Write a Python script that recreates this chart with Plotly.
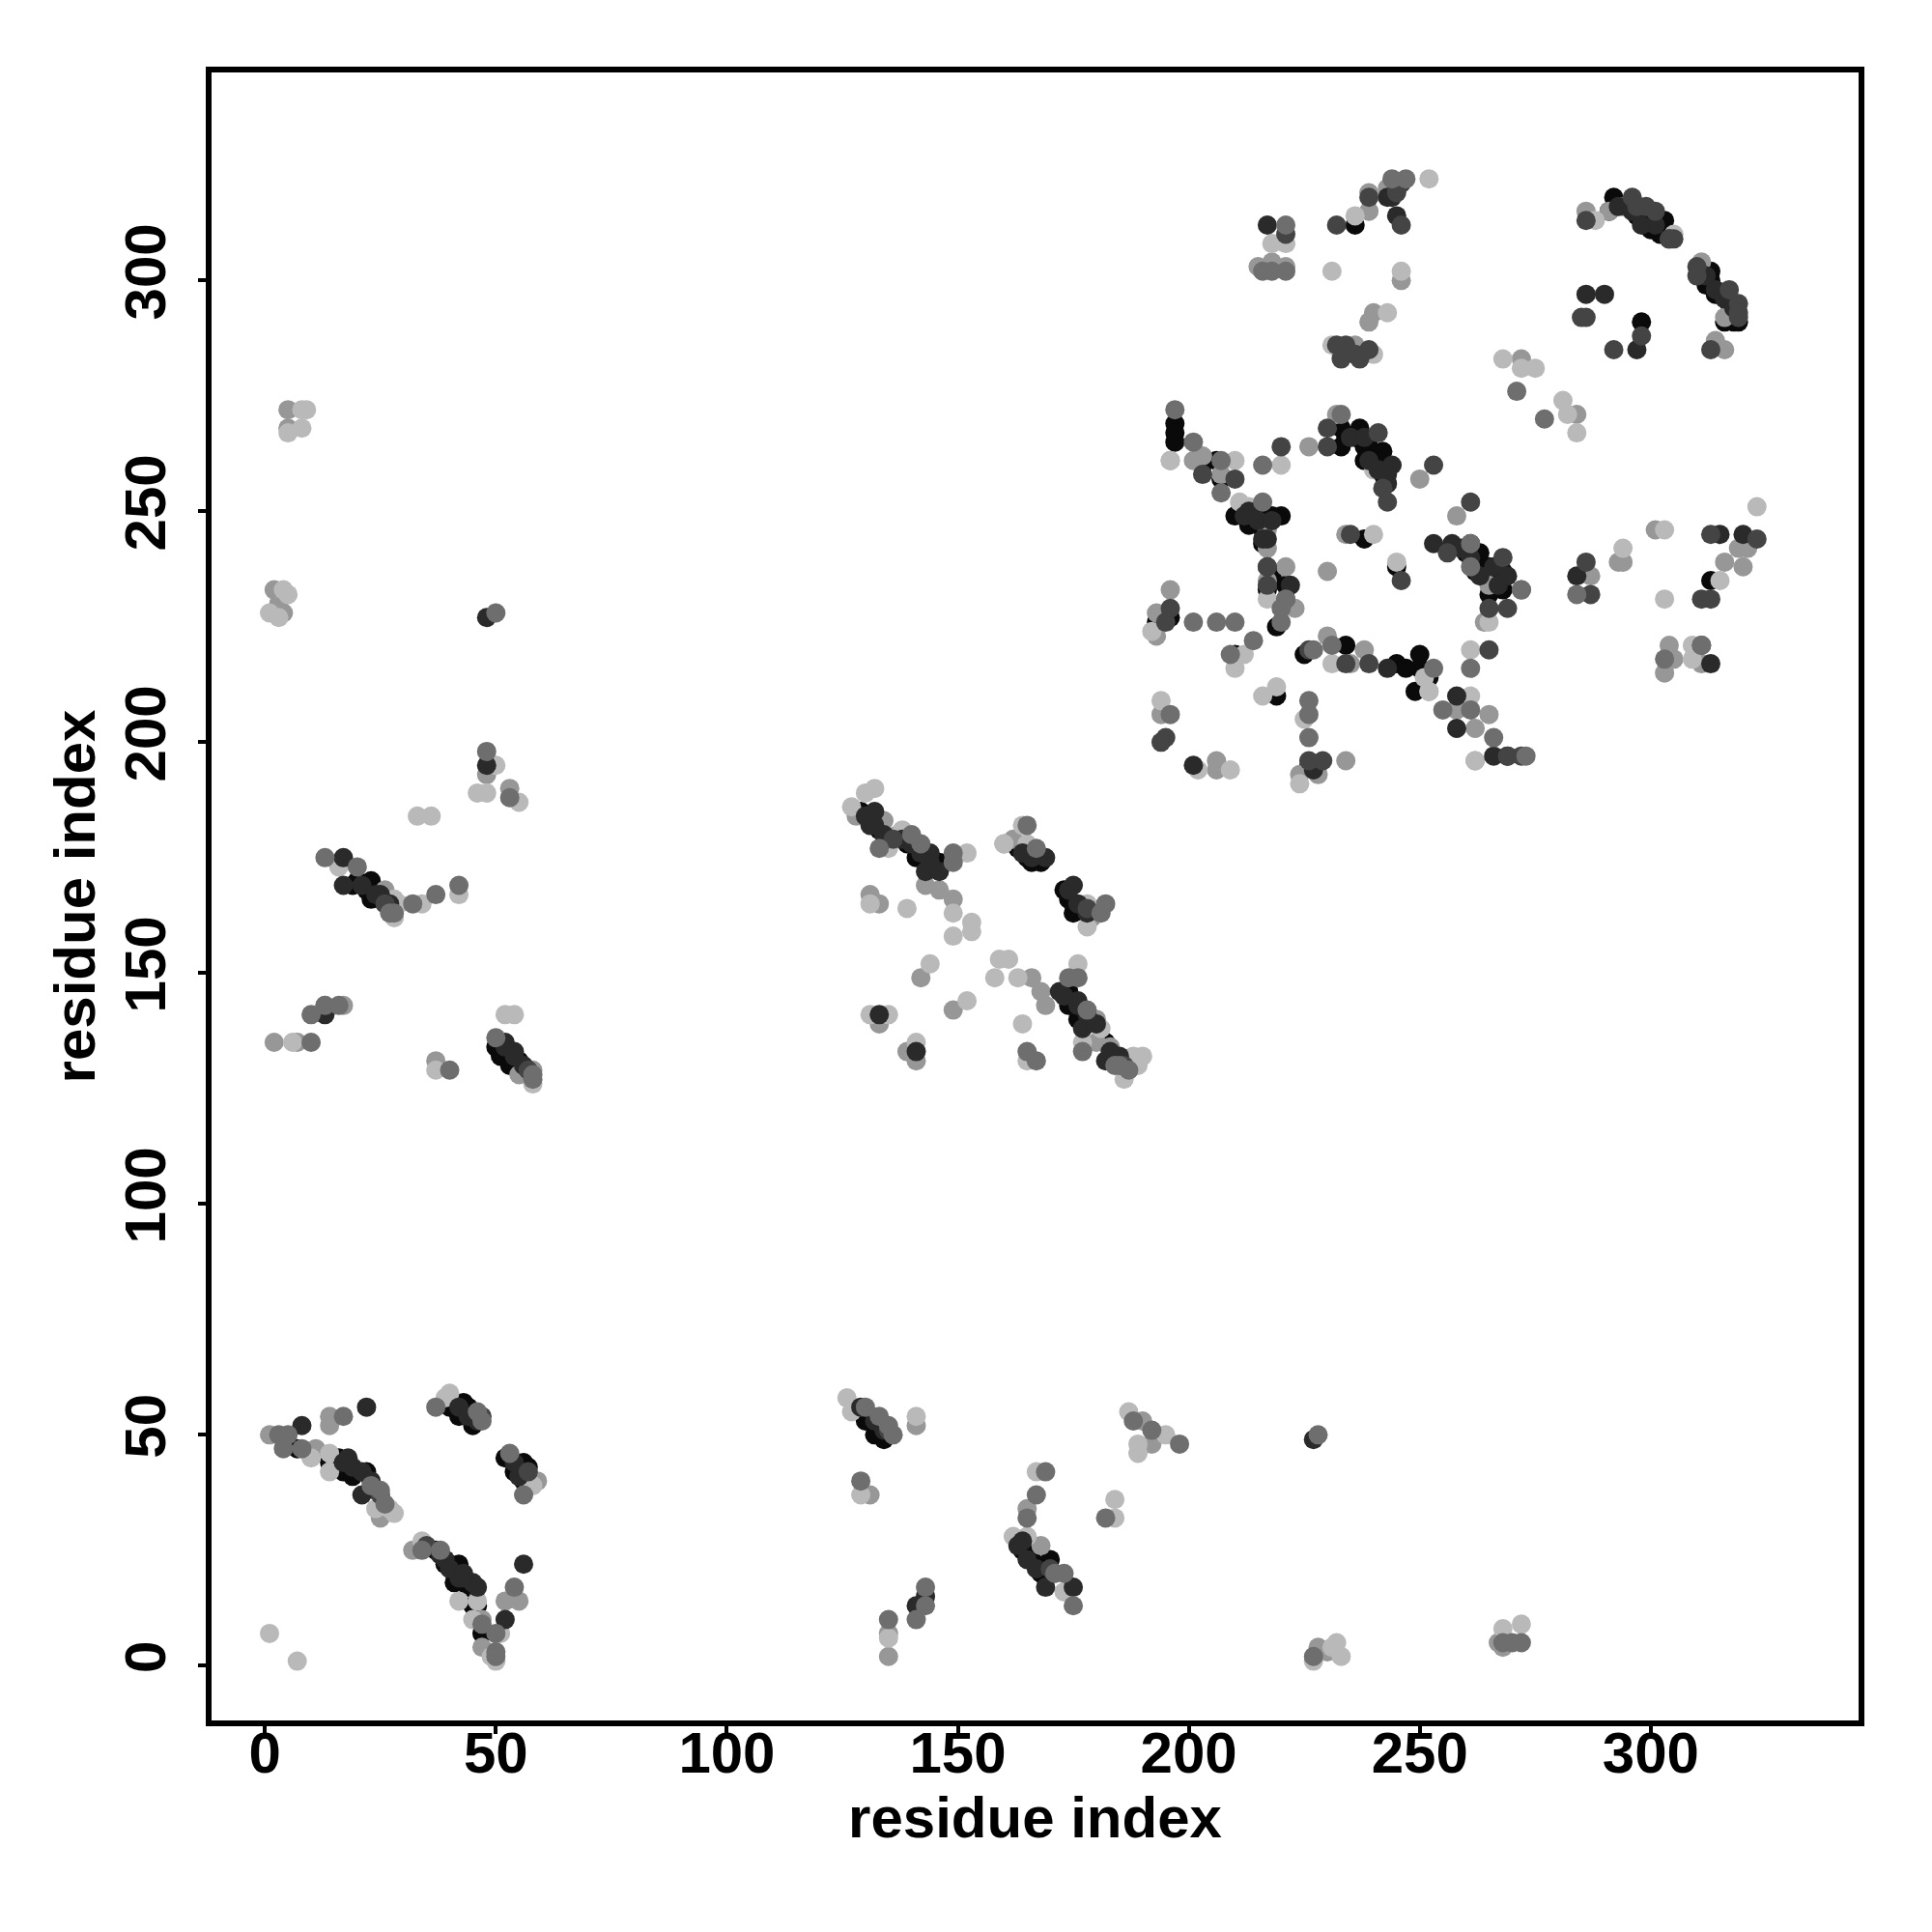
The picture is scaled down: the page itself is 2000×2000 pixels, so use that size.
import plotly.graph_objects as go

# contact points (residue i, residue j), grouped by shade
black_pts = [(236,312),(292,318),(291,315),(298,313),(300,311),(303,313),(313,302),(312,299),(314,297),(319,291),(316,291),
 (298,291),(197,269),(197,267),(197,265),(203,260),(206,261),(207,257),(233,268),(237,268),(233,264),(238,264),(238,261),(242,263),
 (210,249),(215,249),(220,249),(218,249),(213,247),(216,246),(238,244),(260,241),(263,241),(264,237),(268,237),(268,233),(265,232),
 (245,238),(217,233),(221,234),(194,227),(196,227),(219,225),(210,219),(225,219),(234,221),(245,217),(250,219),(250,216),(249,211),
 (219,210),(226,195),(269,197),(313,235),(7,47),(14,44),(17,42),(19,41),(22,42),(37,25),(40,22),(42,22),(45,13),(47,7),(40,56),(43,57),
 (42,54),(45,52),(52,45),(54,42),(57,43),(56,40),(20,170),(23,170),(23,166),(50,134),(51,132),(53,130),(130,53),(132,50),(134,49),
 (165,25),(170,23),(167,22),(169,19),(163,177),(166,174),(168,174),(174,166),(175,163),(174,146),(174,143),(176,140),(141,175),(146,174),
 (51,135),(53,133),(55,131),(19,169),(22,168),(25,166),(129,185),(131,183),(133,181),(139,178),(141,177),(143,175),(145,173),
 (165,175),(167,175),(173,168),(175,165),(177,164),(175,144),(177,142),(179,140),(182,135),(184,132),(16,45),(18,44),(20,42),(39,22),(41,20),(41,18),
 (44,17),(46,13),(41,57),(44,56),(43,55),(53,45),(55,43),(56,44),(131,54),(133,52),(164,25),(166,23),(168,20),(295,316),(297,314),(299,314),(302,310),
 (311,302),(313,300),(315,297),(317,295),(318,291),(212,251),(214,249),(216,247),(217,247),(216,243),(234,266),(236,266),(239,264),(240,262),(241,261),(242,258),
 (262,239),(262,237),(265,238),(266,235),(247,216),(252,214),(193,226),(218,236)]
dark_pts = [(217,312),(245,314),(286,297),(290,297),(297,285),(244,260),(243,256),(212,249),(216,244),(217,238),(222,234),(261,243),
 (257,243),(253,243),(284,236),(320,245),(315,245),(266,197),(243,216),(258,210),(258,203),(227,194),(313,217),(201,195),
 (18,45),(21,37),(39,23),(42,19),(43,19),(45,18),(52,10),(56,22),(22,56),(8,52),(17,175),(17,169),(25,167),(27,165),(13,141),(52,135),
 (54,133),(48,195),(164,27),(169,17),(175,17),(143,15),(141,13),(227,49),(131,182),(132,185),(139,179),(143,172),(144,176),(146,172),
 (169,175),(175,169),(172,146),(176,144),(177,138),(182,131),(185,132),(141,133),(133,141),(48,227),
 (52,134),(54,132),(56,130),(21,169),(24,167),(130,184),(132,182),(134,180),(138,179),(140,178),(142,176),(144,174),(164,176),(166,175),(174,168),(176,165),(178,163),
 (173,145),(176,143),(178,141),(180,139),(183,133),(185,131),(17,44),(19,43),(21,42),(23,40),(24,38),(38,24),(40,21),(43,20),(46,17),(42,56),(44,54),(46,53),
 (54,44),(55,41),(129,56),(132,53),(134,51),(163,26),(165,23),(167,21),(293,316),(296,315),(298,312),(301,312),(304,309),(312,301),(314,298),(316,296),(318,294),
 (213,250),(215,248),(218,248),(217,244),(235,266),(238,266),(239,261),(241,259),(243,258),(259,242),(261,240),(263,236),(266,238),(267,234),(269,236),(243,318),(244,318)]
deep_pts = [(232,312),(239,318),(245,319),(246,312),(221,310),(232,286),(234,286),(236,284),(239,285),(286,313),(296,318),(299,316),
 (297,316),(301,315),(310,303),(310,301),(317,298),(313,285),(203,258),(210,257),(220,264),(230,264),(230,268),(241,267),(243,252),
 (253,260),(261,252),(235,245),(256,241),(268,240),(272,233),(265,229),(269,229),(286,239),(287,232),(313,245),(323,244),(311,231),
 (313,231),(246,235),(217,238),(217,234),(221,231),(196,229),(195,226),(226,220),(239,217),(234,217),(265,220),(195,201),(194,200),
 (269,197),(272,197),(229,196),(226,196),(292,285),(285,292),(286,292),(298,288),(233,283),(237,283),(304,309),(311,221),(319,295),(319,293),
 (57,129),(26,165),(136,179),(178,164),(186,130),(25,37),(35,26),(47,54),(57,42),(135,51),(170,21),(305,309),(319,292),(242,255),(245,320),(246,321)]
gray1_pts = [(247,322),(244,322),(221,312),(216,302),(218,302),(221,302),(197,272),(201,265),(207,261),(207,254),(216,260),(221,231),(220,229),
 (220,226),(216,252),(233,271),(261,216),(271,276),(277,270),(261,207),(255,207),(266,201),(273,197),(214,222),(209,219),(206,226),(210,226),
 (226,209),(226,206),(226,201),(231,221),(227,220),(253,216),(261,243),(261,238),(272,233),(284,232),(311,221),(303,218),(196,206),(201,226),
 (17,54),(3,50),(5,50),(4,47),(8,47),(23,39),(25,38),(34,25),(38,25),(47,9),(50,7),(50,3),(50,2),(54,17),(37,56),(46,55),(47,53),(53,46),(56,37),
 (13,175),(20,173),(27,163),(32,165),(37,167),(42,169),(53,188),(48,198),(50,228),(10,141),(13,143),(16,143),(10,135),(40,129),(58,127),(50,136),
 (165,32),(167,37),(169,42),(173,20),(175,13),(188,53),(192,51),(198,48),(182,32),(141,10),(143,17),(143,13),(135,10),(227,2),
 (268,5),(272,5),(270,5),(129,40),(130,56),(133,54),(135,52),(136,50),(133,177),(149,176),(149,174),(142,178),(140,180),(167,177),(165,182),
 (174,149),(176,149),(178,142),(182,165),(165,133),(167,131),(185,130),(184,130),(177,133),(228,50),(58,128),(28,163),(181,163),(187,129),(26,35),(171,20)]
gray2_pts = [(239,319),(243,320),(239,315),(218,304),(215,303),(221,303),(246,300),(240,293),(239,291),(233,284),(236,286),(272,283),(284,271),
 (316,292),(314,287),(316,285),(286,315),(291,315),(294,316),(311,304),(196,261),(203,262),(201,261),(207,258),(226,264),(232,271),(250,257),
 (258,249),(217,246),(217,242),(234,245),(221,238),(217,235),(223,229),(196,233),(193,228),(193,223),(230,237),(230,223),(238,220),(235,217),
 (252,211),(262,203),(258,207),(265,206),(262,196),(224,193),(228,193),(234,196),(293,239),(294,239),(301,246),(319,242),(321,242),(316,239),(320,238),
 (287,236),(304,221),(305,218),(303,215),(311,217),(206,196),(206,194),(194,206),(264,226),(265,234),
 (1,50),(14,54),(14,52),(11,47),(55,14),(52,14),(32,25),(47,10),(47,4),(59,40),(58,40),(25,32),(5,272),(5,268),(2,233),(3,230),(4,228),
 (48,193),(53,190),(13,143),(17,143),(2,135),(7,135),(37,131),(55,128),(58,129),(26,168),
 (165,34),(168,26),(190,53),(192,48),(141,52),(131,37),(135,7),(135,2),(228,4),(230,3),(268,4),(267,5),
 (134,183),(128,184),(143,169),(146,168),(149,166),(131,167),(133,165),(139,133),(141,131),(133,139),(162,179),(180,140),(180,135),(183,134),(187,129),
 (142,149),(149,142),(166,149),(168,146),(169,143),(179,162),(137,180),(160,178)]
light_pts = [(252,322),(236,314),(218,308),(221,308),(231,302),(246,302),(243,293),(231,286),(240,284),(288,313),(305,310),(268,283),(272,281),(275,281),
 (281,274),(282,271),(284,267),(196,261),(210,261),(220,260),(240,259),(245,239),(211,252),(213,251),(240,245),(265,226),(217,231),(192,224),(212,219),
 (210,216),(231,217),(251,214),(252,211),(261,220),(261,210),(262,196),(194,209),(202,194),(209,194),(224,191),(219,212),(216,210),(225,205),(294,242),(303,246),
 (323,251),(315,235),(303,231),(309,221),(309,218),(14,46),(10,45),(14,42),(24,34),(27,34),(28,33),(34,27),(42,14),(46,14),(45,10),(50,1),(49,2),(51,7),
 (39,58),(40,59),(58,39),(1,7),(7,1),(9,272),(8,272),(8,268),(5,267),(4,233),(5,232),(1,228),(3,227),(50,195),(46,189),(48,189),(55,187),(36,184),(33,184),
 (16,173),(28,166),(29,165),(28,162),(34,165),(42,167),(6,135),(37,129),(52,141),(54,141),(58,126),
 (126,58),(127,55),(141,54),(129,37),(167,42),(162,28),(165,28),(171,20),(173,16),(187,55),(195,50),(189,48),(189,46),(184,32),(184,36),(135,6),(227,1),
 (232,5),(233,2),(231,4),(268,8),(272,9),
 (127,186),(130,189),(132,190),(135,177),(138,181),(152,176),(149,163),(153,161),(153,159),(149,158),(131,165),(139,164),(164,182),(160,178),(165,178),(178,165),
 (178,160),(144,152),(152,144),(158,149),(159,153),(161,153),(163,149),(164,139),(176,152),(181,138),(177,135),(186,127),(188,132),(190,132),(189,130),
 (131,141),(135,141),(141,135),(165,131)]

x_ticks = [0, 50, 100, 150, 200, 250, 300]
x_title = "residue index"
y_title = "residue index"

# shade and drawing order
layers = [
    (black_pts, "#0a0a0a"),
    (gray2_pts, "#979797"),
    (light_pts, "#b9b9b9"),
    (dark_pts, "#2a2a2a"),
    (deep_pts, "#444444"),
    (gray1_pts, "#6e6e6e"),
]

fig = go.Figure()
for pts, colour in layers:
    fig.add_trace(go.Scatter(
        x=[p[0] for p in pts], y=[p[1] for p in pts], mode="markers",
        marker=dict(size=20, color=colour, line=dict(width=0)),
        hoverinfo="skip", showlegend=False))

font = "Liberation Sans"
axis = dict(
    tickmode="array", tickvals=x_ticks, ticktext=[str(t) for t in x_ticks],
    ticks="outside", ticklen=8, tickwidth=4, tickcolor="black",
    showgrid=False, zeroline=False, showline=True, linecolor="black", linewidth=6,
    mirror=True, tickfont=dict(family=font, size=60, color="black", weight="bold"),
)
fig.update_layout(
    width=2000, height=2000, autosize=False,
    paper_bgcolor="white", plot_bgcolor="white",
    margin=dict(l=211, r=84, t=67, b=227),
    xaxis=dict(axis, range=[-11.55, 345.0], ticklabelstandoff=-32, automargin=True,
               title=dict(text=x_title, font=dict(family=font, size=60, color="black", weight="bold"), standoff=8)),
    yaxis=dict(axis, range=[-11.85, 345.05], tickangle=-90, ticklabelstandoff=10,
               title=dict(text=y_title, font=dict(family=font, size=60, color="black", weight="bold"), standoff=1)),
)
fig.write_html("out.html")
